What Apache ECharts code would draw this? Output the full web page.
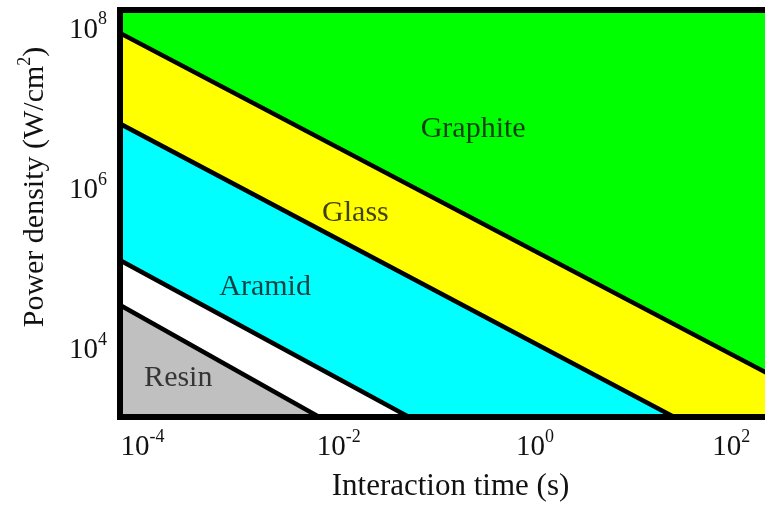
<!DOCTYPE html>
<html>
<head>
<meta charset="utf-8">
<script src="https://cdn.jsdelivr.net/npm/echarts@6/dist/echarts.min.js"></script>
<style>
  html, body { margin: 0; padding: 0; background: #fff; }
  #chart { width: 765px; height: 509px; }
</style>
</head>
<body>
<div id="chart"></div>
<script>
// All values are decimal exponents: x = log10(interaction time, s), y = log10(power density, W/cm^2)
const xTickExponents = [-4, -2, 0, 2];
const yTickExponents = [4, 6, 8];
const xRange = [-4.229, 2.344];
const yRange = [3.1385, 8.2215];

// Region boundaries (two end points each)
const graphiteGlassBoundary = [[-4.4, 8.043], [2.5, 3.601]];
const glassAramidBoundary   = [[-4.4, 6.912], [1.631, 3.0]];
const aramidBlankBoundary   = [[-4.4, 5.210], [-1.076, 3.0]];
const blankResinBoundary    = [[-4.4, 4.655], [-1.998, 3.0]];

const regionNames = ['Graphite', 'Glass', 'Aramid', 'Resin'];
const regionLabelPositions = [[-0.63, 6.73], [-1.83, 5.68], [-2.75, 4.765], [-3.635, 3.63]];

const FONT = 'Liberation Serif';
const chart = echarts.init(document.getElementById('chart'), null, { renderer: 'canvas' });

function expLabel(v) {
  return '{b|10}{s|' + Math.round(v) + '}';
}
const tickRich = {
  b: { fontSize: 29, fontFamily: FONT, color: '#111', lineHeight: 34, verticalAlign: 'bottom' },
  s: { fontSize: 18, fontFamily: FONT, color: '#111', lineHeight: 18, verticalAlign: 'top' }
};
const frameLine = { color: '#000', width: 6, cap: 'square' };

function boundarySeries(data, fill) {
  return {
    type: 'line',
    data: data,
    symbol: 'none',
    clip: true,
    lineStyle: { color: '#000', width: 4.5 },
    areaStyle: { color: fill, opacity: 1, origin: 'start' },
    silent: true
  };
}

chart.setOption({
  animation: false,
  grid: {
    left: 120, top: 10, bottom: 86, right: -10,
    show: true, backgroundColor: '#00ff00', borderWidth: 0
  },
  xAxis: [{
    type: 'value', min: xRange[0], max: xRange[1], position: 'bottom', z: 10,
    axisLine: { show: true, onZero: false, lineStyle: frameLine },
    axisTick: { show: false },
    splitLine: { show: false },
    axisLabel: { customValues: xTickExponents, formatter: expLabel, rich: tickRich, margin: 11 },
    name: 'Interaction time (s)',
    nameLocation: 'middle',
    nameGap: 53,
    nameTextStyle: { fontSize: 31, fontFamily: FONT, color: '#111', lineHeight: 34, padding: [0, 0, 0, 16] }
  }, {
    type: 'value', min: xRange[0], max: xRange[1], position: 'top', z: 10,
    axisLine: { show: true, onZero: false, lineStyle: frameLine },
    axisTick: { show: false }, splitLine: { show: false }, axisLabel: { show: false }
  }],
  yAxis: [{
    type: 'value', min: yRange[0], max: yRange[1], position: 'left', z: 10,
    axisLine: { show: true, onZero: false, lineStyle: frameLine },
    axisTick: { show: false },
    splitLine: { show: false },
    axisLabel: { customValues: yTickExponents, formatter: expLabel, rich: tickRich, margin: 13 },
    name: '{n|Power density (W/cm}{s|2}{n|)}',
    nameLocation: 'middle',
    nameGap: 70,
    nameTextStyle: {
      padding: [0, 0, 0, 53],
      rich: {
        n: { fontSize: 30, fontFamily: FONT, color: '#111', lineHeight: 34, verticalAlign: 'bottom' },
        s: { fontSize: 18, fontFamily: FONT, color: '#111', lineHeight: 18, verticalAlign: 'top' }
      }
    }
  }],
  series: [
    boundarySeries(graphiteGlassBoundary, '#ffff00'),
    boundarySeries(glassAramidBoundary, '#00ffff'),
    boundarySeries(aramidBlankBoundary, '#ffffff'),
    boundarySeries(blankResinBoundary, '#c0c0c0'),
    {
      type: 'scatter',
      symbolSize: 0,
      silent: true,
      z: 5,
      data: regionNames.map((n, i) => ({ name: n, value: regionLabelPositions[i] })),
      label: {
        show: true, position: 'inside', formatter: '{b}',
        fontSize: 30, fontFamily: FONT, color: '#111'
      }
    }
  ]
});
</script>
</body>
</html>
